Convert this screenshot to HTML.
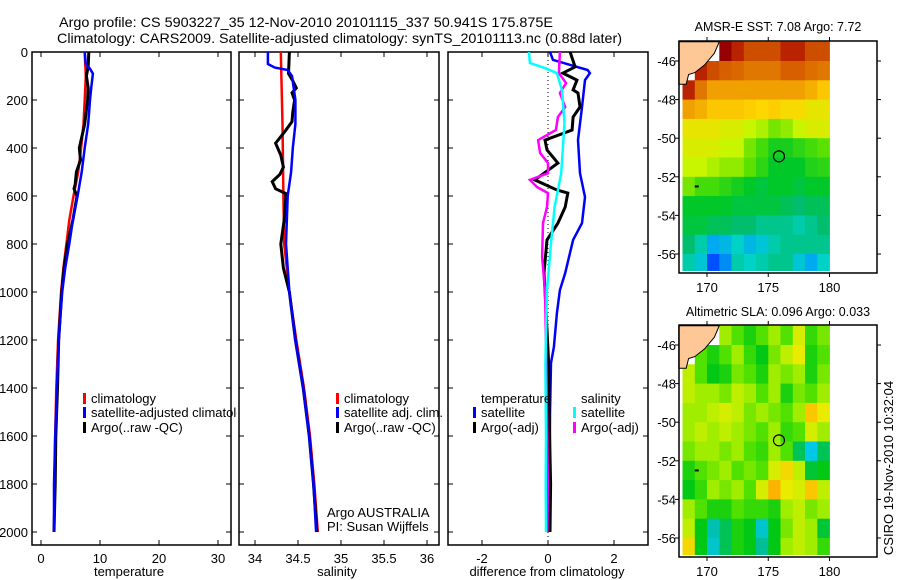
<!DOCTYPE html>
<html><head><meta charset="utf-8">
<style>
html,body{margin:0;padding:0;background:#fff;}
svg{display:block;font-family:"Liberation Sans",sans-serif;}
</style></head>
<body>
<svg id="fig" width="900" height="580" viewBox="0 0 900 580" xmlns="http://www.w3.org/2000/svg">
<defs><clipPath id="leg1clip"><rect x="0" y="0" width="237" height="580"/></clipPath></defs>
<rect width="900" height="580" fill="#fff"/>
<text x="59" y="27" font-size="14" textLength="494" lengthAdjust="spacingAndGlyphs">Argo profile: CS 5903227_35 12-Nov-2010 20101115_337 50.941S 175.875E</text>
<text x="57" y="43" font-size="14" textLength="565" lengthAdjust="spacingAndGlyphs">Climatology: CARS2009. Satellite-adjusted climatology: synTS_20101113.nc (0.88d later)</text>
<g id="g"></g>
</svg>
<script>
// ---------- profile data ----------
const tempClimDepth=[0,100,200,300,400,500,600,700,800,900,1000,1200,1400,1600,1800,2000];
const tempClim=[7.4,7.6,7.4,7.2,6.8,6.3,5.5,4.8,4.3,3.8,3.4,2.9,2.6,2.4,2.3,2.2];
const tempSatDepth=[0,50,70,90,150,200,300,400,500,600,700,800,900,1000,1200,1400,1600,1800,2000];
const tempSat=[7.4,7.6,8.3,8.8,8.5,8.3,8.0,7.4,6.9,6.2,5.4,4.8,4.1,3.6,3.0,2.7,2.4,2.2,2.2];
const tempArgoDepth=[0,60,100,150,200,300,400,450,500,550,570,600,700,800,900,1000,1200,1400,1600,1800,2000];
const tempArgo=[8.1,8.0,7.7,8.0,7.9,7.4,6.5,6.7,6.0,5.8,5.6,6.1,5.4,4.5,3.9,3.5,3.0,2.8,2.5,2.4,2.2];

const salClimDepth=[0,300,600,800,1000,1200,1400,1600,1800,2000];
const salClim=[34.30,34.32,34.33,34.34,34.40,34.48,34.57,34.64,34.69,34.73];
const salSatDepth=[0,50,65,75,100,200,300,400,500,600,800,1000,1200,1400,1600,1800,2000];
const salSat=[34.15,34.15,34.23,34.38,34.43,34.47,34.47,34.44,34.42,34.38,34.36,34.40,34.47,34.56,34.63,34.68,34.71];
const salArgoDepth=[0,90,120,150,170,200,250,290,330,380,430,480,510,540,570,590,700,800,900,1000,1200,1400,1600,1800,2000];
const salArgo=[34.40,34.39,34.44,34.48,34.43,34.46,34.44,34.43,34.35,34.24,34.30,34.33,34.29,34.20,34.24,34.36,34.34,34.30,34.33,34.40,34.47,34.56,34.63,34.68,34.72];

const dTSatDepth=[0,33,75,88,117,229,367,505,604,713,783,921,992,1088,1229,1296,1504,1800,2000];
const dTSat=[0.06,0.15,1.2,1.27,1.12,1.03,0.91,0.97,1.12,1.03,0.76,0.52,0.36,0.27,0.18,0.09,0.06,0.05,0.05];
const dTArgoDepth=[0,62,88,117,158,171,229,271,325,367,408,463,533,575,588,646,713,783,921,992,1300,1600,1800,2000];
const dTArgo=[0.67,0.82,0.45,0.88,0.76,0.91,0.97,0.76,0.73,-0.09,-0.03,0.3,-0.4,0.27,0.6,0.52,0.3,-0.03,-0.12,-0.09,0.02,0.05,0.08,0.06];
const dSSatDepth=[0,46,67,88,158,296,505,646,783,990,1300,1600,1800,2000];
const dSSat=[-0.58,-0.55,-0.09,0.27,0.42,0.5,0.4,0.2,0.1,-0.03,-0.08,-0.06,-0.07,-0.06];
const dSArgoDepth=[0,88,130,171,229,271,325,367,421,463,505,533,563,588,646,713,854,992,1300,1600,1800,2000];
const dSArgo=[0.36,0.33,0.55,0.36,0.52,0.3,0.24,-0.3,-0.24,0.0,0.0,-0.55,-0.33,0.0,-0.03,-0.15,-0.18,-0.09,-0.05,-0.02,-0.01,-0.02];

// ---------- map data (1-degree cells, lon 168..180, lat -45..-57, row0 = northmost; null = land) ----------
const sstRows=[
[null,null,null,12,11.5,11,11,11,11.5,11.5,11,11],
[null,11.5,11,10.8,10.7,10.5,10.5,10.5,10.8,10.8,10.6,10.5],
[11.5,10.5,10,10,10,10,10,10,10,10,9.8,9.5],
[10,9.8,9.5,9.5,9.5,9.4,9.3,9.4,9.2,9.2,9,9],
[9,9,9,8.8,8.8,8.6,8.4,8,8.2,8.6,8.8,8.8],
[8.8,8.8,8.8,8.6,8.6,8,7.6,7.2,7.2,7.4,7.6,7.8],
[8.6,8.6,8.4,8.2,8.2,7.8,7.4,7,7,7,7.3,7.4],
[8,7.6,7.6,7.4,7.2,7,6.8,7,7,6.8,7,7],
[7,7,7,7,6.8,6.8,6.8,6.8,6.6,6.4,6.6,6.6],
[6.8,6.8,6.6,6.6,6.4,6.4,6.2,6.2,6.2,6,6.2,6.4],
[6.4,6,5.2,5.4,5.8,5.4,5.6,6,6.2,6.2,6.2,6.2],
[6,5.6,4.6,5,6,5.8,6,6.2,6.2,5.6,5.2,5.8]];
const slaRows=[
[null,null,null,0.04,0.0,-0.04,0.0,0.04,0.0,0.08,-0.02,0.02],
[null,0.0,-0.04,0.0,0.04,-0.02,-0.06,0.02,0.06,0.1,-0.04,0.0],
[0.06,0.0,-0.06,-0.04,0.02,0.0,-0.04,0.04,0.02,0.04,-0.04,0.02],
[0.06,0.04,0.04,0.02,0.06,0.04,0.0,0.04,-0.04,0.02,0.0,0.04],
[0.04,0.04,0.06,0.08,0.06,0.02,0.04,0.02,0.0,0.04,0.14,0.1],
[0.04,0.06,0.04,0.06,0.04,0.02,0.0,0.04,-0.02,0.0,0.08,0.04],
[0.02,0.04,0.04,0.02,0.04,0.0,-0.02,0.04,0.0,-0.1,-0.2,-0.1],
[-0.04,0.0,0.02,0.04,0.0,0.02,0.0,0.08,0.12,0.06,-0.08,-0.06],
[-0.06,-0.02,0.04,0.02,0.04,0.0,0.08,0.16,0.1,0.08,0.14,0.06],
[0.04,0.0,-0.04,-0.04,0.0,-0.02,-0.02,-0.04,0.04,0.06,0.02,0.04],
[0.06,-0.06,-0.16,-0.1,-0.04,-0.06,-0.18,-0.06,0.02,0.06,0.04,-0.08],
[0.12,-0.06,-0.18,-0.1,-0.04,-0.06,-0.14,-0.06,0.04,0.06,0.04,-0.02]];
const depthTicks=[0,200,400,600,800,1000,1200,1400,1600,1800,2000];
const tempTicks=[0,10,20,30];
const salTicks=[34,34.5,35,35.5,36];
const diffTicks=[-2,0,2];
const latTicks=[-46,-48,-50,-52,-54,-56];
const lonTicks=[170,175,180];
const argoLon=175.875, argoLat=-50.941;

const NS="http://www.w3.org/2000/svg";
const G=document.getElementById('g');
function mk(tag,at,parent){const e=document.createElementNS(NS,tag);for(const k in at)e.setAttribute(k,at[k]);(parent||G).appendChild(e);return e;}
function txt(s,at,parent){const e=mk('text',at,parent);e.textContent=s;return e;}

const TOP=52, BOT=545;
const yD=d=>TOP+d*0.24;
const panels=[
 {x0:32,x1:231,f:v=>41+5.9*v,name:'temperature-panel'},
 {x0:239,x1:439,f:v=>255+86*(v-34),name:'salinity-panel'},
 {x0:448,x1:648,f:v=>548+33*v,name:'difference-panel'}];

function frame(p,ticks,xlabel,xlabelX){
  const g=mk('g',{});
  
  
  mk('rect',{x:p.x0,y:TOP,width:p.x1-p.x0,height:BOT-TOP,fill:'none',stroke:'#000','stroke-width':1.5},g);
  for(const t of ticks){const x=p.f(t);
    mk('line',{x1:x,y1:TOP,x2:x,y2:TOP+5,stroke:'#000'},g);
    mk('line',{x1:x,y1:BOT,x2:x,y2:BOT-5,stroke:'#000'},g);
    const l=txt(String(t),{x:x,y:BOT+18,'font-size':13,'text-anchor':'middle'},g);
    
    
  }
  for(const d of depthTicks){const y=yD(d);
    mk('line',{x1:p.x0,y1:y,x2:p.x0+5,y2:y,stroke:'#000'},g);
    mk('line',{x1:p.x1,y1:y,x2:p.x1-5,y2:y,stroke:'#000'},g);
  }
  const xl=txt(xlabel,{x:xlabelX,y:576,'font-size':13,'text-anchor':'middle'},g);
  
  
  return g;
}
const g1=frame(panels[0],tempTicks,'temperature',129);
const g2=frame(panels[1],salTicks,'salinity',337);
const g3=frame(panels[2],diffTicks,'difference from climatology',547);
for(const d of depthTicks){
  const l=txt(String(d),{x:28,y:yD(d)+5,'font-size':13,'text-anchor':'end'});
  
  
}
const zl=mk('line',{x1:548,y1:TOP,x2:548,y2:BOT-8,stroke:'#000','stroke-dasharray':'1 3'},g3);



function series(p,depths,vals,color,w,name,parent){
  const pts=depths.map((d,i)=>p.f(vals[i]).toFixed(1)+','+yD(d).toFixed(1)).join(' ');
  const e=mk('polyline',{points:pts,fill:'none',stroke:color,'stroke-width':w,'stroke-linejoin':'miter'},parent);
  
  
}
series(panels[0],tempClimDepth,tempClim,'#f00',2.5,'temperature-climatology-line',g1);
series(panels[0],tempArgoDepth,tempArgo,'#000',3,'temperature-argo-line',g1);
series(panels[0],tempSatDepth,tempSat,'#00f',2.5,'temperature-satellite-line',g1);
series(panels[1],salClimDepth,salClim,'#f00',2.5,'salinity-climatology-line',g2);
series(panels[1],salArgoDepth,salArgo,'#000',3,'salinity-argo-line',g2);
series(panels[1],salSatDepth,salSat,'#00f',2.5,'salinity-satellite-line',g2);
series(panels[2],dTSatDepth,dTSat,'#00f',2.5,'temp-satellite-diff-line',g3);
series(panels[2],dTArgoDepth,dTArgo,'#000',3,'temp-argo-diff-line',g3);
series(panels[2],dSArgoDepth,dSArgo,'#f0f',2.5,'salinity-argo-diff-line',g3);
series(panels[2],dSSatDepth,dSSat,'#0ff',2.5,'salinity-satellite-diff-line',g3);

function legend(x,y,color,label,parent,clip){
  const g=mk('g',{},parent);
  
  
  if(clip) g.setAttribute('clip-path','url(#leg1clip)');
  if(color) mk('rect',{x:x-8,y:y-10,width:3,height:11,fill:color},g);
  txt(label,{x:x,y:y,'font-size':13},g);
}
legend(91,403,'#f00','climatology',null,true);
legend(91,417,'#00f','satellite-adjusted climatology',null,true);
legend(91,432,'#000','Argo(..raw -QC)',null,true);
legend(344,403,'#f00','climatology');
legend(344,417,'#00f','satellite adj. clim.');
legend(344,432,'#000','Argo(..raw -QC)');
legend(481,403,null,'temperature');
legend(481,417,'#00f','satellite');
legend(481,432,'#000','Argo(-adj)');
legend(581,403,null,'salinity');
legend(581,417,'#0ff','satellite');
legend(581,432,'#f0f','Argo(-adj)');
const pi=txt('Argo AUSTRALIA',{x:327,y:517,'font-size':13});

const pi2=txt('PI: Susan Wijffels',{x:327,y:531,'font-size':13});


// ---------- maps ----------
function lerpC(stops,v){
  if(v<=stops[0][0])return 'rgb('+stops[0][1].join(',')+')';
  for(let i=1;i<stops.length;i++){if(v<=stops[i][0]){const a=stops[i-1],b=stops[i],t=(v-a[0])/(b[0]-a[0]);
    return 'rgb('+[0,1,2].map(k=>Math.round(a[1][k]+(b[1][k]-a[1][k])*t)).join(',')+')';}}
  const l=stops[stops.length-1][1];return 'rgb('+l.join(',')+')';
}
const sstStops=[[4.6,[0,80,255]],[5.2,[0,170,240]],[5.8,[0,210,200]],[6.4,[0,190,110]],[7,[0,200,40]],[7.8,[90,225,0]],[8.6,[200,245,0]],[9.3,[255,215,0]],[10,[240,160,0]],[10.8,[215,95,0]],[11.5,[185,35,0]],[12,[150,0,0]]];
const slaStops=[[-0.2,[0,200,230]],[-0.14,[0,190,150]],[-0.06,[0,200,20]],[0.0,[80,225,0]],[0.05,[180,240,0]],[0.1,[235,235,0]],[0.15,[255,190,0]],[0.2,[240,130,0]]];

function drawMap(top,bot,lat46,lat56,rows,stops,title,titleY,name){
  const g=mk('g',{});
  
  
  const pxLat=(lat56-lat46)/10;
  const yL=lat=>lat46+(-46-lat)*pxLat;
  const xL=lon=>707+12.25*(lon-170);
  rows.forEach((row,r)=>row.forEach((v,c)=>{
    if(v===null)return;
    const x=xL(168+c), y=Math.max(top,yL(-45-r));
    const y2=Math.min(bot-2,yL(-46-r)+0.6);
    const cell=mk('rect',{x:Math.max(679,x).toFixed(1),y:y.toFixed(1),width:(12.6-(x<679?679-x:0)).toFixed(1),height:(y2-y).toFixed(1),fill:lerpC(stops,v)},g);
    
    
  }));
  const land=[[167.7,-45],[171,-45],[170.6,-45.6],[169.8,-46.2],[169,-46.6],[168.5,-46.7],[168.3,-47.2],[167.7,-47.2]];
  const lp=mk('polygon',{points:land.map(p=>xL(p[0]).toFixed(1)+','+yL(p[1]).toFixed(1)).join(' '),fill:'#fdc896',stroke:'#000','stroke-width':1},g);
  
  
  mk('rect',{x:xL(169),y:yL(-52.5)-1,width:4,height:2,fill:'#000'},g);
  const ac=mk('circle',{cx:xL(argoLon),cy:yL(argoLat),r:5.5,fill:'none',stroke:'#000','stroke-width':1.2},g);
  
  
  mk('rect',{x:679,y:top,width:198,height:bot-top,fill:'none',stroke:'#000','stroke-width':1.5},g);
  for(const la of latTicks){const y=yL(la);
    mk('line',{x1:877,y1:y,x2:881,y2:y,stroke:'#000'},g);
    mk('line',{x1:675,y1:y,x2:679,y2:y,stroke:'#000'},g);
    const l=txt(String(la),{x:676,y:y+5,'font-size':13,'text-anchor':'end'},g);
    
    
  }
  for(const lo of lonTicks){const x=xL(lo);
    mk('line',{x1:x,y1:top,x2:x,y2:top-4,stroke:'#000'},g);
    mk('line',{x1:x,y1:bot,x2:x,y2:bot+4,stroke:'#000'},g);
    const l=txt(String(lo),{x:x,y:bot+19,'font-size':13,'text-anchor':'middle'},g);
    
    
  }
  const t=txt(title,{x:778,y:titleY,'font-size':12.5,'text-anchor':'middle'},g);
  
  
}
drawMap(41,273,61,254,sstRows,sstStops,'AMSR-E SST: 7.08 Argo: 7.72',31,'sst-map');
drawMap(325,557,345,538,slaRows,slaStops,'Altimetric SLA: 0.096 Argo: 0.033',316,'sla-map');
const cs=txt('CSIRO 19-Nov-2010 10:32:04',{x:0,y:0,'font-size':13,'text-anchor':'middle',transform:'translate(893,468) rotate(-90)'});


</script>
</body></html>
